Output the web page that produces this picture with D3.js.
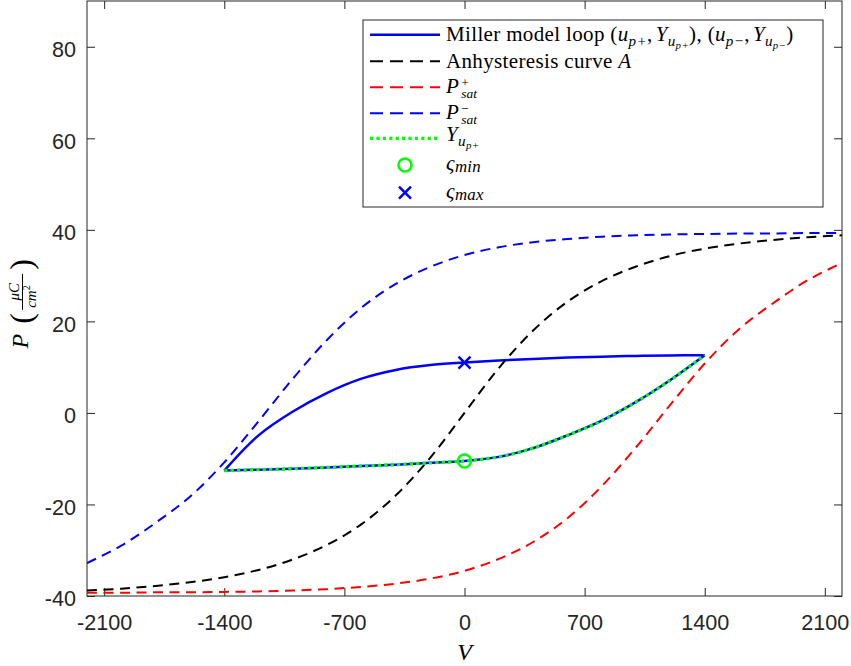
<!DOCTYPE html>
<html>
<head>
<meta charset="utf-8">
<script src="https://d3js.org/d3.v7.min.js"></script>
<style>
  body { margin: 0; background: #fff; }
  svg { display: block; }
  text { white-space: pre; }
  .tick text { font-family: "Liberation Sans", Arial, sans-serif; font-size: 21.6px; fill: #262626; }
  .tick line { stroke: #262626; }
</style>
</head>
<body>
<div id="chart"></div>
<script>
// ---- data ----
var volts = [-2200,-2000,-1800,-1600,-1400,-1200,-1000,-800,-600,-400,-200,0,
             200,400,600,800,1000,1200,1400,1600,1800,2000,2200];
var anhyst = [-38.8,-38.4,-37.8,-37.0,-35.9,-34.3,-32.0,-28.8,-24.3,-18.0,-9.8,0,
              9.8,18.0,24.3,28.8,32.0,34.3,35.9,37.0,37.8,38.4,38.8];
var psatPlus = [-39.3,-39.3,-39.2,-39.2,-39.1,-39.0,-38.8,-38.5,-38.0,-37.3,-36.2,-34.5,
                -31.9,-28.2,-23.0,-16.0,-7.5,1.8,10.8,18.3,24.0,29.0,32.8];
var psatMinus = [-32.8,-29.0,-24.0,-18.3,-10.8,-1.8,7.5,16.0,23.0,28.2,31.9,34.5,
                 36.2,37.3,38.0,38.5,38.8,39.0,39.1,39.2,39.2,39.3,39.3];

var loopV = [-1400,-1200,-1000,-800,-600,-400,-200,0,200,400,600,800,1000,1200,1400];
var loopUpper = [-12.6,-4.9,0.3,4.4,7.5,9.4,10.45,11.0,11.45,11.8,12.1,12.3,12.45,12.55,12.6];
var loopLower = [-12.6,-12.4,-12.2,-11.9,-11.6,-11.3,-10.9,-10.5,-9.6,-7.7,-4.9,-1.7,2.4,7.2,12.6];

var markV = 0, sMin = -10.5, sMax = 11.0;

var xTicks = [-2100,-1400,-700,0,700,1400,2100];
var yTicks = [-40,-20,0,20,40,60,80];

// ---- layout ----
var W = 851, H = 666;
var L = 87, R = 842, T = 1, B = 596;
var ink = "#262626";
var serif = "'Liberation Serif', 'Times New Roman', serif";

var svg = d3.select("#chart").append("svg").attr("width", W).attr("height", H);

var x = d3.scaleLinear().domain([-2200, 2200]).range([L, R]);
var y = d3.scaleLinear().domain([-40, 90]).range([B, T]);

svg.append("defs").append("clipPath").attr("id", "clip")
  .append("rect").attr("x", L).attr("y", T).attr("width", R - L).attr("height", B - T);

// axes, ticks inside like matlab
var plain = function(d){ return String(d); };
var axBottom = svg.append("g").attr("transform", "translate(0," + B + ")")
  .call(d3.axisBottom(x).tickValues(xTicks).tickFormat(plain).tickSizeInner(-8).tickSizeOuter(0).tickPadding(18.7));
var axTop = svg.append("g").attr("transform", "translate(0," + T + ")")
  .call(d3.axisTop(x).tickValues(xTicks).tickSizeInner(-8).tickSizeOuter(0).tickFormat(""));
var axLeft = svg.append("g").attr("transform", "translate(" + L + ",0)")
  .call(d3.axisLeft(y).tickValues(yTicks).tickFormat(plain).tickSizeInner(-8).tickSizeOuter(0).tickPadding(11));
var axRight = svg.append("g").attr("transform", "translate(" + R + ",0)")
  .call(d3.axisRight(y).tickValues(yTicks).tickSizeInner(-8).tickSizeOuter(0).tickFormat(""));
axLeft.selectAll(".tick text").attr("dy", "0.45em");
[axBottom, axTop, axLeft, axRight].forEach(function(a){
  a.select(".domain").remove();
  a.attr("font-family", null).attr("font-size", null);
});

svg.append("rect").attr("x", L).attr("y", T).attr("width", R - L).attr("height", B - T)
  .attr("fill", "none").attr("stroke", ink).attr("stroke-width", 1);

// ---- curves ----
var plot = svg.append("g").attr("clip-path", "url(#clip)");
function line(xs, ys) {
  return d3.line().x(function(d, i){ return x(xs[i]); }).y(function(d){ return y(d); })
    .curve(d3.curveCatmullRom.alpha(0.5))(ys);
}

plot.append("path").attr("d", line(loopV, loopUpper)).attr("fill", "none")
  .attr("stroke", "#0000ff").attr("stroke-width", 2.5);
plot.append("path").attr("d", line(loopV, loopLower)).attr("fill", "none")
  .attr("stroke", "#0000ff").attr("stroke-width", 2.5);

var dash = "10,6.5";
plot.append("path").attr("d", line(volts, anhyst)).attr("fill", "none")
  .attr("stroke", "#000").attr("stroke-width", 2).attr("stroke-dasharray", dash);
plot.append("path").attr("d", line(volts, psatPlus)).attr("fill", "none")
  .attr("stroke", "#ff0000").attr("stroke-width", 2).attr("stroke-dasharray", dash);
plot.append("path").attr("d", line(volts, psatMinus)).attr("fill", "none")
  .attr("stroke", "#0000ff").attr("stroke-width", 2).attr("stroke-dasharray", dash);

plot.append("path").attr("d", line(loopV, loopLower)).attr("fill", "none")
  .attr("stroke", "#00ff00").attr("stroke-width", 3.3).attr("stroke-dasharray", "3.2,3.2");

function drawCircle(g, cx, cy) {
  g.append("circle").attr("cx", cx).attr("cy", cy).attr("r", 6.5)
    .attr("fill", "none").attr("stroke", "#00ff00").attr("stroke-width", 2.5);
}
function drawCross(g, cx, cy) {
  var s = 6;
  g.append("path").attr("d", "M" + (cx - s) + "," + (cy - s) + "L" + (cx + s) + "," + (cy + s) +
      "M" + (cx - s) + "," + (cy + s) + "L" + (cx + s) + "," + (cy - s))
    .attr("stroke", "#0000ff").attr("stroke-width", 2.5).attr("fill", "none");
}
drawCircle(plot, x(markV), y(sMin));
drawCross(plot, x(markV), y(sMax));

// ---- math-ish text helper: pieces laid out one after another ----
function mathText(g, x0, y0, size, parts, ls) {
  var cx = x0;
  parts.forEach(function(p) {
    var t = g.append("text").attr("x", cx).attr("y", y0 + (p.dy || 0) * size)
      .attr("font-family", serif).attr("font-size", size * (p.sc || 1))
      .attr("letter-spacing", ls || 0)
      .style("font-style", p.it ? "italic" : "normal")
      .attr("fill", "#000").text(p.t);
    cx += t.node().getComputedTextLength() + (p.sp || 0);
  });
  return cx;
}
// symbol with stacked super/subscript, all in one text element
function supSub(g, x0, y0, size, base, sup, sub) {
  var t = g.append("text").attr("font-family", serif).attr("font-size", size).attr("fill", "#000");
  t.append("tspan").attr("x", x0).attr("y", y0).style("font-style", "italic").text(base);
  var w = t.node().getComputedTextLength() + 2.5;
  t.append("tspan").attr("x", x0 + w).attr("y", y0 - 0.3 * size).attr("font-size", size * 0.64).text(sup);
  t.append("tspan").attr("x", x0 + w).attr("y", y0 + 0.22 * size).attr("font-size", size * 0.64)
    .style("font-style", "italic").text(sub);
}

// ---- legend ----
var lg = svg.append("g");
lg.append("rect").attr("x", 363).attr("y", 20).attr("width", 460).attr("height", 187)
  .attr("fill", "#fff").attr("stroke", ink).attr("stroke-width", 1);

var rows = [34.7, 61.3, 87.3, 113.3, 138.3, 165, 192.7];
var lx0 = 370, lx1 = 440, tx = 446, fs = 21, ls = 0.35;

function sample(cy, color, w, da) {
  lg.append("line").attr("x1", lx0).attr("x2", lx1).attr("y1", cy).attr("y2", cy)
    .attr("stroke", color).attr("stroke-width", w).attr("stroke-dasharray", da);
}
sample(rows[0], "#0000ff", 2.5, null);
sample(rows[1], "#000", 2, "13,7");
sample(rows[2], "#ff0000", 2, "13,7");
sample(rows[3], "#0000ff", 2, "13,7");
sample(rows[4], "#00ff00", 3.3, "3.2,3.2");
drawCircle(lg, 405, rows[5]);
drawCross(lg, 405, rows[6]);

var sub = 0.72, d1 = 0.22, d2 = 0.36;
mathText(lg, tx, rows[0] + 6.5, fs, [
  {t: "Miller model loop ("},
  {t: "u", it: true}, {t: "p+", it: true, sc: sub, dy: d1},
  {t: ",", sp: 3},
  {t: "Y", it: true}, {t: "u", it: true, sc: sub, dy: d1}, {t: "p+", it: true, sc: 0.52, dy: d2},
  {t: "), ("},
  {t: "u", it: true}, {t: "p\u2212", it: true, sc: sub, dy: d1},
  {t: ",", sp: 3},
  {t: "Y", it: true}, {t: "u", it: true, sc: sub, dy: d1}, {t: "p\u2212", it: true, sc: 0.52, dy: d2},
  {t: ")"}
], ls);
mathText(lg, tx, rows[1] + 6.5, fs, [{t: "Anhysteresis curve "}, {t: "A", it: true}], ls);
supSub(lg, tx, rows[2] + 6, fs, "P", "+", "sat");
supSub(lg, tx, rows[3] + 6, fs, "P", "\u2212", "sat");
mathText(lg, tx, rows[4] + 3, fs, [{t: "Y", it: true}, {t: "u", it: true, sc: sub, dy: d1}, {t: "p+", it: true, sc: 0.52, dy: d2}], ls);
mathText(lg, tx, rows[5] + 5, fs, [{t: "\u03c2", it: true}, {t: "min", it: true, sc: 0.8, dy: 0.1}], ls);
mathText(lg, tx, rows[6] + 5, fs, [{t: "\u03c2", it: true}, {t: "max", it: true, sc: 0.8, dy: 0.1}], ls);

// ---- axis labels ----
svg.append("text").attr("x", x(0)).attr("y", 660).attr("text-anchor", "middle")
  .attr("font-family", serif).attr("font-size", 24).style("font-style", "italic").text("V");

var yl = svg.append("g").attr("transform", "translate(28," + ((T + B) / 2) + ") rotate(-90)");
var px = mathText(yl, -50, 0, 24, [{t: "P", it: true, sp: 10}]);
yl.append("text").attr("x", px).attr("y", 4).attr("font-family", serif).attr("font-size", 32).text("(");
var fx = px + 14;
yl.append("text").attr("x", fx + 18).attr("y", -9).attr("text-anchor", "middle")
  .attr("font-family", serif).attr("font-size", 15).style("font-style", "italic").text("\u03bcC");
yl.append("line").attr("x1", fx).attr("x2", fx + 36).attr("y1", -5.5).attr("y2", -5.5)
  .attr("stroke", "#000").attr("stroke-width", 1);
var den = yl.append("text").attr("x", fx + 2).attr("y", 8)
  .attr("font-family", serif).attr("font-size", 15).style("font-style", "italic").text("cm");
var dw = den.node().getComputedTextLength();
yl.append("text").attr("x", fx + 2 + dw).attr("y", 2).attr("font-family", serif)
  .attr("font-size", 10).text("2");
yl.append("text").attr("x", fx + 40).attr("y", 4).attr("font-family", serif).attr("font-size", 32).text(")");
</script>
</body>
</html>
